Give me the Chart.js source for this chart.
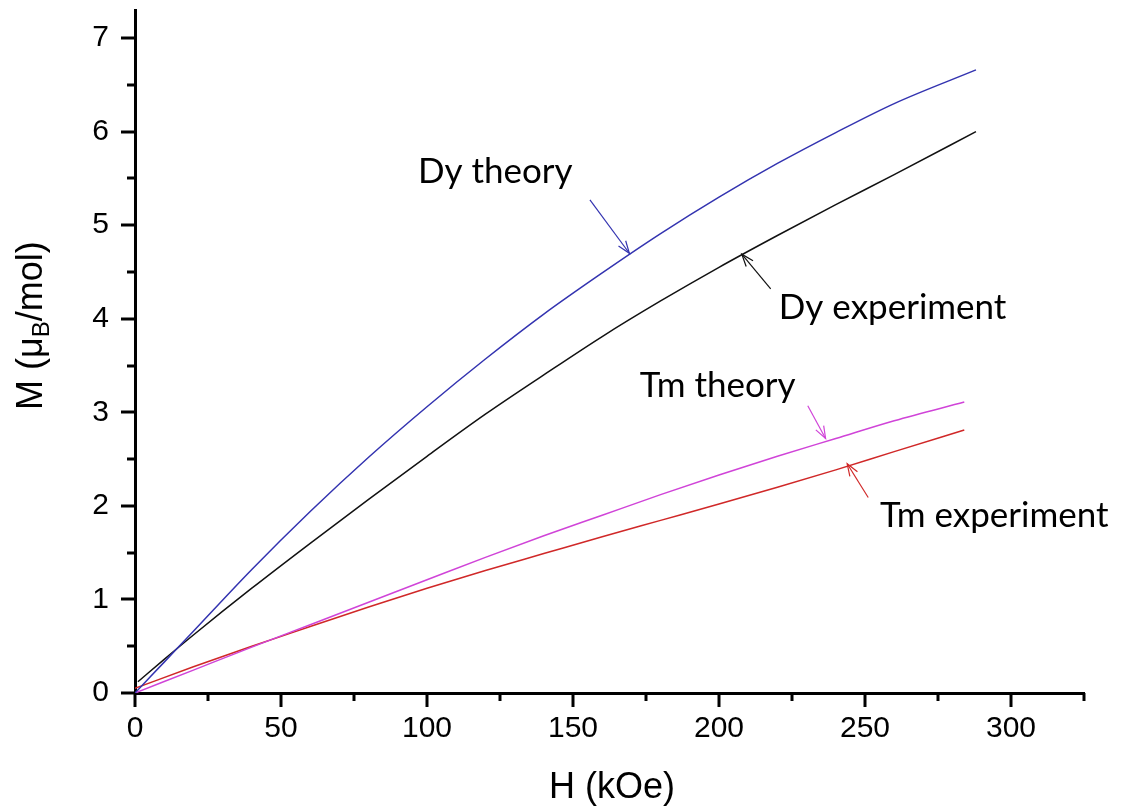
<!DOCTYPE html>
<html><head><meta charset="utf-8">
<script src="https://cdn.jsdelivr.net/npm/chart.js@4.4.0/dist/chart.umd.min.js"></script>
<style>html,body{margin:0;padding:0;background:#fff;}#wrap{width:1130px;height:807px;}</style>
</head><body><div id="wrap"><canvas id="c" width="1130" height="807"></canvas></div>
<script>
// ---- data (H in kOe, M in muB/mol) ----
const dyTheoryH = [0, 10, 20, 40, 60, 80, 100, 120, 140, 160, 180, 200, 220, 240, 260, 288];
const dyTheoryM = [0, 0.33, 0.66, 1.32, 1.94, 2.52, 3.06, 3.57, 4.05, 4.49, 4.91, 5.30, 5.66, 5.99, 6.30, 6.66];
const dyExpH = [1, 10, 20, 40, 60, 80, 100, 120, 140, 160, 180, 200, 220, 240, 260, 288];
const dyExpM = [0.12, 0.36, 0.62, 1.12, 1.60, 2.07, 2.53, 2.98, 3.40, 3.81, 4.19, 4.55, 4.89, 5.22, 5.54, 6.00];
const tmTheoryH = [0, 20, 40, 60, 80, 100, 120, 140, 160, 180, 200, 220, 240, 260, 284];
const tmTheoryM = [0, 0.245, 0.49, 0.73, 0.97, 1.21, 1.45, 1.68, 1.90, 2.12, 2.33, 2.53, 2.72, 2.91, 3.11];
const tmExpH = [0, 20, 40, 60, 80, 100, 120, 140, 160, 180, 200, 220, 240, 260, 284];
const tmExpM = [0.05, 0.28, 0.50, 0.71, 0.92, 1.12, 1.31, 1.49, 1.67, 1.845, 2.02, 2.20, 2.385, 2.58, 2.81];

const xTickValues = [0, 25, 50, 75, 100, 125, 150, 175, 200, 225, 250, 275, 300, 325];
const xTickLabels = ['0', '', '50', '', '100', '', '150', '', '200', '', '250', '', '300', ''];
const yTickValues = [0, 0.5, 1, 1.5, 2, 2.5, 3, 3.5, 4, 4.5, 5, 5.5, 6, 6.5, 7];
const yTickLabels = ['0', '', '1', '', '2', '', '3', '', '4', '', '5', '', '6', '', '7'];

const noteTexts = ['Dy theory', 'Dy experiment', 'Tm theory', 'Tm experiment'];
const noteTextH = [96.9, 220.5, 172.9, 255.1];
const noteTextM = [5.45, 4.00, 3.16, 1.77];
const arrowFromH = [155.8, 217.7, 230.4, 251.1];
const arrowFromM = [5.27, 4.32, 3.07, 2.09];
const arrowToH = [169.3, 207.8, 236.5, 243.9];
const arrowToM = [4.70, 4.69, 2.72, 2.45];

const COL_BLUE = '#3333b0', COL_BLACK = '#111111', COL_MAG = '#d044d8', COL_RED = '#d02828';
const arrowColors = [COL_BLUE, COL_BLACK, COL_MAG, COL_RED];

function pts(h, m) { return h.map((v, i) => ({x: v, y: m[i]})); }

const TICK_FONT = {family: "'Liberation Sans', Arial, sans-serif", size: 30};

const decor = {
  id: 'decor',
  afterDatasetsDraw(chart) {
    const ctx = chart.ctx, xs = chart.scales.x, ys = chart.scales.y;
    ctx.save();
    ctx.font = "35px Lato, 'Open Sans', sans-serif";
    ctx.textBaseline = 'alphabetic';
    ctx.textAlign = 'left';
    ctx.fillStyle = '#000';
    noteTexts.forEach((t, i) => {
      ctx.fillText(t, xs.getPixelForValue(noteTextH[i]), ys.getPixelForValue(noteTextM[i]));
      const x1 = xs.getPixelForValue(arrowFromH[i]), y1 = ys.getPixelForValue(arrowFromM[i]);
      const x2 = xs.getPixelForValue(arrowToH[i]), y2 = ys.getPixelForValue(arrowToM[i]);
      ctx.strokeStyle = arrowColors[i];
      ctx.lineWidth = 1.2;
      ctx.beginPath(); ctx.moveTo(x1, y1); ctx.lineTo(x2, y2); ctx.stroke();
      const a = Math.atan2(y2 - y1, x2 - x1), L = 13, w = 0.35;
      ctx.beginPath();
      ctx.moveTo(x2 - L * Math.cos(a - w), y2 - L * Math.sin(a - w));
      ctx.lineTo(x2, y2);
      ctx.lineTo(x2 - L * Math.cos(a + w), y2 - L * Math.sin(a + w));
      ctx.stroke();
    });
    ctx.restore();
  },
  afterDraw(chart) {
    const ctx = chart.ctx, xs = chart.scales.x, ys = chart.scales.y, ca = chart.chartArea;
    ctx.save();
    ctx.strokeStyle = '#000';
    ctx.lineWidth = 3;
    ctx.lineCap = 'butt';
    xTickValues.forEach((v, i) => {
      const px = Math.round(xs.getPixelForValue(v));
      const len = xTickLabels[i] !== '' ? 14 : 8;
      ctx.beginPath(); ctx.moveTo(px, ca.bottom); ctx.lineTo(px, ca.bottom + len); ctx.stroke();
    });
    yTickValues.forEach((v, i) => {
      const py = Math.round(ys.getPixelForValue(v));
      const len = yTickLabels[i] !== '' ? 14 : 8;
      ctx.beginPath(); ctx.moveTo(ca.left, py); ctx.lineTo(ca.left - len, py); ctx.stroke();
    });
    ctx.fillStyle = '#000';
    ctx.font = "36px 'Liberation Sans', Arial, sans-serif";
    ctx.textAlign = 'center';
    ctx.textBaseline = 'alphabetic';
    ctx.fillText('H (kOe)', 612, 798);
    ctx.translate(42, 410);
    ctx.rotate(-Math.PI / 2);
    ctx.textAlign = 'left';
    const big = "36px 'Liberation Sans', Arial, sans-serif";
    const small = "24px 'Liberation Sans', Arial, sans-serif";
    let x = 0;
    ctx.font = big; ctx.fillText('M (\u03bc', x, 0); x += ctx.measureText('M (\u03bc').width;
    ctx.font = small; ctx.fillText('B', x, 7); x += ctx.measureText('B').width;
    ctx.font = big; ctx.fillText('/mol)', x, 0);
    ctx.restore();
  }
};

new Chart(document.getElementById('c'), {
  type: 'scatter',
  data: {
    datasets: [
      {label: 'Dy theory', data: pts(dyTheoryH, dyTheoryM), borderColor: COL_BLUE},
      {label: 'Dy experiment', data: pts(dyExpH, dyExpM), borderColor: COL_BLACK},
      {label: 'Tm theory', data: pts(tmTheoryH, tmTheoryM), borderColor: COL_MAG},
      {label: 'Tm experiment', data: pts(tmExpH, tmExpM), borderColor: COL_RED}
    ].map(d => Object.assign(d, {showLine: true, pointRadius: 0, borderWidth: 1.5, cubicInterpolationMode: 'monotone', fill: false}))
  },
  options: {
    responsive: false,
    animation: false,
    devicePixelRatio: 1,
    layout: {padding: {left: 0, top: 10, right: 46, bottom: 0}},
    plugins: {legend: {display: false}, tooltip: {enabled: false}},
    scales: {
      x: {
        type: 'linear', min: 0, max: 325,
        afterBuildTicks(s) { s.ticks = xTickValues.map(v => ({value: v})); },
        afterFit(s) { s.height = 114; s.paddingLeft = 0; s.paddingRight = 0; },
        ticks: {autoSkip: false, maxRotation: 0, padding: 4, color: '#000', font: TICK_FONT,
          callback: (v, i) => xTickLabels[i]},
        grid: {display: true, drawOnChartArea: false, drawTicks: true, tickLength: 14, tickColor: 'rgba(0,0,0,0)'},
        border: {display: true, color: '#000', width: 3}
      },
      y: {
        type: 'linear', min: 0, max: 7.3,
        afterBuildTicks(s) { s.ticks = yTickValues.map(v => ({value: v})); },
        afterFit(s) { s.width = 135; s.paddingTop = 0; s.paddingBottom = 0; },
        ticks: {autoSkip: false, padding: 12, color: '#000', font: TICK_FONT,
          callback: (v, i) => yTickLabels[i]},
        grid: {display: true, drawOnChartArea: false, drawTicks: true, tickLength: 14, tickColor: 'rgba(0,0,0,0)'},
        border: {display: true, color: '#000', width: 3}
      }
    }
  },
  plugins: [decor]
});
</script></body></html>
